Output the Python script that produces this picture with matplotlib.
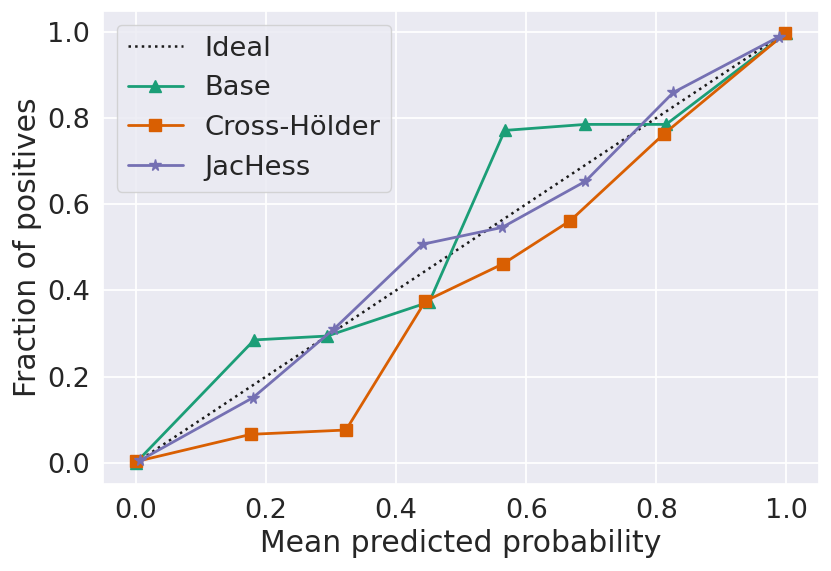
import matplotlib
matplotlib.use("Agg")
import matplotlib.pyplot as plt
import seaborn as sns

sns.set_theme(style="darkgrid")
plt.rcParams['font.family'] = ['DejaVu Sans']

# calibration curves
ideal = [0.0, 1.0]

base_x = [0.0, 0.182, 0.294, 0.451, 0.567, 0.691, 0.815, 0.999]
base_y = [0.0, 0.285, 0.294, 0.373, 0.771, 0.785, 0.785, 0.996]

holder_x = [0.001, 0.177, 0.323, 0.445, 0.565, 0.668, 0.811, 0.998]
holder_y = [0.003, 0.066, 0.076, 0.375, 0.462, 0.562, 0.762, 0.996]

jac_x = [0.007, 0.180, 0.305, 0.441, 0.563, 0.691, 0.826, 0.988]
jac_y = [0.006, 0.151, 0.311, 0.507, 0.546, 0.653, 0.859, 0.988]

colors = ['#1b9e77', '#d95f02', '#7570b3']

fig = plt.figure(figsize=(8.31, 5.71), dpi=100)
ax = fig.add_axes([0.1243, 0.1518, 0.8613, 0.8289])

ax.plot(ideal, ideal, 'k:', lw=1.8, label='Ideal')
ax.plot(base_x, base_y, '-^', color=colors[0], lw=2, ms=8.5, label='Base')
ax.plot(holder_x, holder_y, '-s', color=colors[1], lw=2, ms=8.5, label='Cross-Hölder')
ax.plot(jac_x, jac_y, '-*', color=colors[2], lw=2, ms=8.5, label='JacHess')

ax.set_xlim(-0.05, 1.05)
ax.set_ylim(-0.05, 1.048)
ax.set_xticks([0.0, 0.2, 0.4, 0.6, 0.8, 1.0])
ax.set_yticks([0.0, 0.2, 0.4, 0.6, 0.8, 1.0])
ax.tick_params(labelsize=19.5)
ax.grid(lw=1.3)
ax.set_xlabel('Mean predicted probability', fontsize=21.5, labelpad=4)
ax.set_ylabel('Fraction of positives', fontsize=21.5)
ax.legend(loc='upper left', fontsize=19.7)

fig.savefig('out.png', dpi=100)
